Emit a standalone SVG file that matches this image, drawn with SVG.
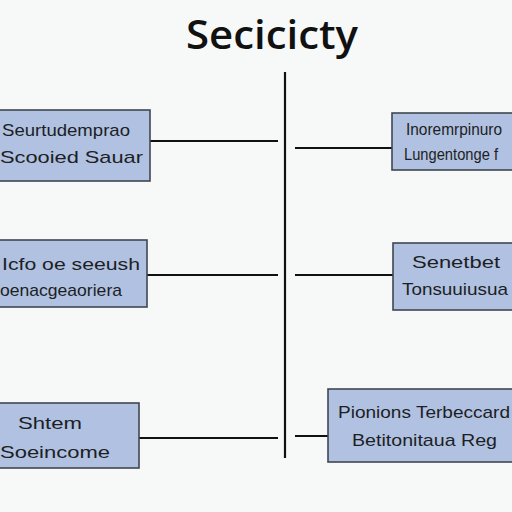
<svg xmlns="http://www.w3.org/2000/svg" width="512" height="512" viewBox="0 0 512 512">
<style>
.box{fill:#b1c1e1;stroke:#3f4750;stroke-width:1.6}
.t{font-family:"Liberation Sans",Arial,sans-serif;font-size:17px;fill:#1c1f24}
.ln{stroke:#111;stroke-width:2.2;fill:none}
</style>
<rect width="512" height="512" fill="#f7f8f8"/>
<text x="272" y="49" text-anchor="middle" font-family="'Open Sans','DejaVu Sans',sans-serif" font-size="40" font-weight="600" fill="#111" textLength="172" lengthAdjust="spacingAndGlyphs">Secicicty</text>
<g id="connectors">
<line class="ln" x1="285" y1="72" x2="285" y2="458" stroke-width="3"/>
<line class="ln" x1="150" y1="141" x2="278" y2="141"/>
<line class="ln" x1="295" y1="148" x2="392" y2="148"/>
<line class="ln" x1="147" y1="275" x2="278" y2="275"/>
<line class="ln" x1="295" y1="275" x2="393" y2="275"/>
<line class="ln" x1="139" y1="438" x2="278" y2="438"/>
<line class="ln" x1="295" y1="436" x2="328" y2="436"/>
</g>
<g id="node-l1">
<rect class="box" x="-2" y="110" width="152" height="71"/>
<text class="t" x="2" y="136" textLength="128" lengthAdjust="spacingAndGlyphs">Seurtudemprao</text>
<text class="t" x="0" y="163" textLength="143" lengthAdjust="spacingAndGlyphs">Scooied Sauar</text>
</g>
<g id="node-r1">
<rect class="box" x="392" y="113" width="124" height="57"/>
<text class="t" x="406" y="135" font-size="15" textLength="96" lengthAdjust="spacingAndGlyphs">Inoremrpinuro</text>
<text class="t" x="404" y="160" font-size="16" textLength="94" lengthAdjust="spacingAndGlyphs">Lungentonge f</text>
</g>
<g id="node-l2">
<rect class="box" x="-2" y="240" width="149" height="67"/>
<text class="t" x="2" y="270" textLength="138" lengthAdjust="spacingAndGlyphs">Icfo oe seeush</text>
<text class="t" x="0" y="296" textLength="122" lengthAdjust="spacingAndGlyphs">oenacgeaoriera</text>
</g>
<g id="node-r2">
<rect class="box" x="393" y="243" width="123" height="67"/>
<text class="t" x="412" y="268" textLength="88" lengthAdjust="spacingAndGlyphs">Senetbet</text>
<text class="t" x="402" y="295" textLength="106" lengthAdjust="spacingAndGlyphs">Tonsuuiusua</text>
</g>
<g id="node-l3">
<rect class="box" x="-2" y="403" width="141" height="65"/>
<text class="t" x="18" y="429" textLength="64" lengthAdjust="spacingAndGlyphs">Shtem</text>
<text class="t" x="0" y="458" textLength="110" lengthAdjust="spacingAndGlyphs">Soeincome</text>
</g>
<g id="node-r3">
<rect class="box" x="328" y="389" width="188" height="73"/>
<text class="t" x="338" y="418" textLength="172" lengthAdjust="spacingAndGlyphs">Pionions Terbeccard</text>
<text class="t" x="352" y="446" textLength="145" lengthAdjust="spacingAndGlyphs">Betitonitaua Reg</text>
</g>
</svg>
